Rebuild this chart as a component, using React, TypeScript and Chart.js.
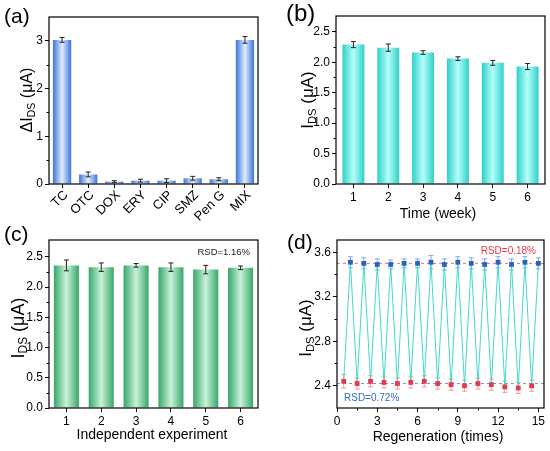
import { useEffect, useRef } from 'react';
import { Chart, registerables } from 'chart.js';

Chart.register(...registerables);

const FONT = "'Liberation Sans', Arial, sans-serif";

// (a) selectivity
const drugLabels = ['TC', 'OTC', 'DOX', 'ERY', 'CIP', 'SMZ', 'Pen G', 'MIX'];
const drugDelta = [3.02, 0.2, 0.05, 0.07, 0.07, 0.12, 0.1, 3.02];
const drugErr = [0.05, 0.05, 0.02, 0.03, 0.04, 0.04, 0.03, 0.07];
const drugTicks = [0, 1, 2, 3];
const drugMinor = [0.5, 1.5, 2.5];

// (b) stability over weeks
const weekLabels = ['1', '2', '3', '4', '5', '6'];
const weekIds = [2.29, 2.24, 2.16, 2.06, 1.99, 1.93];
const weekErr = [0.05, 0.06, 0.03, 0.03, 0.04, 0.05];

// (c) reproducibility
const expLabels = ['1', '2', '3', '4', '5', '6'];
const expIds = [2.36, 2.33, 2.36, 2.33, 2.29, 2.32];
const expErr = [0.09, 0.07, 0.03, 0.07, 0.07, 0.03];

const idsTicks = [0, 0.5, 1, 1.5, 2, 2.5];
const idsMinor = [0.25, 0.75, 1.25, 1.75, 2.25];

// (d) regeneration
const regenLowX = [0.5, 1.5, 2.5, 3.5, 4.5, 5.5, 6.5, 7.5, 8.5, 9.5, 10.5, 11.5, 12.5, 13.5, 14.5];
const regenLow = [2.44, 2.42, 2.44, 2.43, 2.42, 2.43, 2.44, 2.42, 2.41, 2.4, 2.42, 2.41, 2.39, 2.38, 2.4];
const regenLowErr = [0.06, 0.05, 0.05, 0.05, 0.05, 0.05, 0.05, 0.05, 0.05, 0.05, 0.05, 0.05, 0.05, 0.05, 0.05];
const regenHighX = [1, 2, 3, 4, 5, 6, 7, 8, 9, 10, 11, 12, 13, 14, 15];
const regenHigh = [3.51, 3.5, 3.49, 3.49, 3.5, 3.5, 3.51, 3.49, 3.51, 3.5, 3.49, 3.51, 3.49, 3.51, 3.5];
const regenHighErr = [0.05, 0.05, 0.05, 0.04, 0.04, 0.04, 0.06, 0.05, 0.05, 0.05, 0.05, 0.05, 0.05, 0.05, 0.05];
const regenHighMean = 3.5;
const regenLowMean = 2.42;
const regenXTicks = [0, 3, 6, 9, 12, 15];
const regenXMinor = [1.5, 4.5, 7.5, 10.5, 13.5];
const regenYTicks = [2.4, 2.8, 3.2, 3.6];
const regenYMinor = [2.6, 3.0, 3.4];

const line = (ctx: CanvasRenderingContext2D, x1: number, y1: number, x2: number, y2: number) => {
  ctx.beginPath();
  ctx.moveTo(x1, y1);
  ctx.lineTo(x2, y2);
  ctx.stroke();
};

const drawErrors = (chart: any, opts: any, before: boolean) => {
  const ctx = chart.ctx;
  const ys = chart.scales.y;
  (opts.sets || []).forEach((s: any) => {
    if (!!s.before !== before) return;
    const meta = chart.getDatasetMeta(s.dataset);
    const data = chart.data.datasets[s.dataset].data;
    ctx.save();
    ctx.strokeStyle = s.color;
    ctx.lineWidth = s.width ?? 1;
    meta.data.forEach((el: any, i: number) => {
      const raw = data[i];
      const v = typeof raw === 'number' ? raw : raw.y;
      const e = s.errors[i];
      const top = ys.getPixelForValue(v + e);
      const bot = ys.getPixelForValue(v - e);
      line(ctx, el.x, top, el.x, bot);
      line(ctx, el.x - s.cap, top, el.x + s.cap, top);
      line(ctx, el.x - s.cap, bot, el.x + s.cap, bot);
    });
    ctx.restore();
  });
};

const errorBars = {
  id: 'errorBars',
  beforeDatasetsDraw(chart: any, _a: any, opts: any) {
    drawErrors(chart, opts, true);
  },
  afterDatasetsDraw(chart: any, _a: any, opts: any) {
    drawErrors(chart, opts, false);
  },
};

// box, minor ticks, dashed reference lines
const frame = {
  id: 'frame',
  beforeDatasetsDraw(chart: any, _a: any, opts: any) {
    const { ctx, chartArea: a, scales } = chart;
    (opts.hLines || []).forEach((h: any) => {
      const y = scales.y.getPixelForValue(h.y);
      ctx.save();
      ctx.strokeStyle = h.color;
      ctx.lineWidth = 1;
      ctx.setLineDash([3, 3]);
      line(ctx, a.left, y, a.right, y);
      ctx.restore();
    });
  },
  afterDraw(chart: any, _a: any, opts: any) {
    const { ctx, chartArea: a, scales } = chart;
    ctx.save();
    ctx.strokeStyle = '#000';
    ctx.lineWidth = 1.2;
    ctx.strokeRect(a.left, a.top, a.right - a.left, a.bottom - a.top);
    ctx.lineWidth = 1;
    (opts.yMinor || []).forEach((v: number) => {
      const y = Math.round(scales.y.getPixelForValue(v)) + 0.5;
      line(ctx, a.left - 2.5, y, a.left, y);
    });
    (opts.xMinor || []).forEach((v: number) => {
      const x = Math.round(scales.x.getPixelForValue(v)) + 0.5;
      line(ctx, x, a.bottom, x, a.bottom + 2.5);
    });
    ctx.restore();
  },
};

type Part = { t: string; sub?: boolean };

const titles = {
  id: 'titles',
  afterDraw(chart: any, _a: any, o: any) {
    const ctx = chart.ctx;
    ctx.save();
    ctx.fillStyle = '#000';
    if (o.y) {
      const size = o.ySize;
      const parts: Part[] = o.y;
      const widths = parts.map((p) => {
        ctx.font = `${p.sub ? size * 0.66 : size}px ${FONT}`;
        return ctx.measureText(p.t).width;
      });
      const total = widths.reduce((s, w) => s + w, 0);
      ctx.save();
      ctx.translate(o.yPos[0], o.yPos[1]);
      ctx.rotate(-Math.PI / 2);
      ctx.textBaseline = 'middle';
      ctx.textAlign = 'left';
      let x = -total / 2;
      parts.forEach((p, i) => {
        ctx.font = `${p.sub ? size * 0.66 : size}px ${FONT}`;
        ctx.fillText(p.t, x, p.sub ? size * 0.28 : 0);
        x += widths[i];
      });
      ctx.restore();
    }
    // slanted category labels, 45 degrees, ending at the tick
    if (o.slanted) {
      const xs = chart.scales.x;
      const bottom = chart.chartArea.bottom;
      ctx.font = `${o.slanted.size}px ${FONT}`;
      ctx.textAlign = 'right';
      ctx.textBaseline = 'middle';
      o.slanted.labels.forEach((t: string, i: number) => {
        const px = xs.getPixelForValue(i);
        ctx.save();
        ctx.translate(px + 4, bottom + 9);
        ctx.rotate(-Math.PI / 4);
        ctx.fillText(t, 0, 0);
        ctx.restore();
      });
    }
    if (o.x) {
      ctx.font = `${o.xSize}px ${FONT}`;
      ctx.textAlign = 'center';
      ctx.textBaseline = 'middle';
      ctx.fillText(o.x, o.xPos[0], o.xPos[1]);
    }
    (o.notes || []).forEach((n: any) => {
      ctx.font = `${n.size}px ${FONT}`;
      ctx.fillStyle = n.color;
      ctx.textAlign = n.align;
      ctx.textBaseline = 'middle';
      ctx.fillText(n.text, n.x, n.y);
    });
    ctx.restore();
  },
};

const fitArea = (w: number, h: number, area: number[]) => {
  const [l, t, r, b] = area;
  return {
    layout: { padding: { left: 0, top: t, right: w - r, bottom: 0 } },
    yFit: (s: any) => {
      s.width = l;
    },
    xFit: (s: any) => {
      s.height = h - b;
    },
  };
};

const tickFont = (size = 12) => ({ family: FONT, size });

type BarProps = {
  labels: string[];
  values: number[];
  errors: number[];
  edge: string;
  mid: string;
  pct: number;
  yMax: number;
  yTicks: number[];
  yMinor: number[];
  digits: number;
  area: number[];
  w: number;
  h: number;
  rotate?: boolean;
  titleOpts: any;
};

const barConfig = (p: BarProps): any => {
  const fit = fitArea(p.w, p.h, p.area);
  return {
    type: 'bar',
    data: {
      labels: p.labels,
      datasets: [
        {
          data: p.values,
          barPercentage: p.pct,
          categoryPercentage: 1,
          borderWidth: 0,
          backgroundColor: (c: any) => {
            const xs = c.chart.scales.x;
            if (c.type !== 'data' || !xs) return p.edge;
            const cx = xs.getPixelForValue(c.dataIndex);
            const bw = (xs.width / p.labels.length) * p.pct;
            if (!Number.isFinite(cx) || !Number.isFinite(bw) || bw <= 0) return p.edge;
            const g = c.chart.ctx.createLinearGradient(cx - bw / 2, 0, cx + bw / 2, 0);
            g.addColorStop(0, p.edge);
            g.addColorStop(0.5, p.mid);
            g.addColorStop(1, p.edge);
            return g;
          },
        },
      ],
    },
    plugins: [errorBars, frame, titles],
    options: {
      animation: false,
      responsive: true,
      maintainAspectRatio: false,
      layout: fit.layout,
      scales: {
        x: {
          type: 'category',
          offset: true,
          afterFit: fit.xFit,
          grid: { display: true, offset: false, drawOnChartArea: false, drawTicks: true, tickLength: 4, color: '#000' },
          border: { display: false },
          ticks: { display: !p.rotate, padding: 2, color: '#000', font: tickFont(12) },
        },
        y: {
          type: 'linear',
          min: 0,
          max: p.yMax,
          afterFit: fit.yFit,
          afterBuildTicks: (s: any) => {
            s.ticks = p.yTicks.map((v) => ({ value: v }));
          },
          grid: { display: true, drawOnChartArea: false, drawTicks: true, tickLength: 4, color: '#000' },
          border: { display: false },
          ticks: { padding: 2, color: '#000', font: tickFont(12), callback: (v: number) => v.toFixed(p.digits) },
        },
      },
      plugins: {
        legend: { display: false },
        tooltip: { enabled: false },
        errorBars: { sets: [{ dataset: 0, errors: p.errors, color: '#222', cap: 2.5 }] },
        frame: { yMinor: p.yMinor },
        titles: p.rotate ? { ...p.titleOpts, slanted: { labels: p.labels, size: 13 } } : p.titleOpts,
      },
    },
  };
};

const regenConfig = (w: number, h: number): any => {
  const fit = fitArea(w, h, [62, 15, 269, 183]);
  const zigzag: { x: number; y: number }[] = [];
  regenLowX.forEach((x, i) => {
    zigzag.push({ x, y: regenLow[i] });
    zigzag.push({ x: regenHighX[i], y: regenHigh[i] });
  });
  return {
    type: 'scatter',
    data: {
      datasets: [
        {
          data: regenHighX.map((x, i) => ({ x, y: regenHigh[i] })),
          pointStyle: 'rect',
          pointRadius: 3.4,
          backgroundColor: '#2a62c2',
          borderColor: '#2a62c2',
          borderWidth: 0,
        },
        {
          data: regenLowX.map((x, i) => ({ x, y: regenLow[i] })),
          pointStyle: 'rect',
          pointRadius: 3.4,
          backgroundColor: '#e8394c',
          borderColor: '#e8394c',
          borderWidth: 0,
        },
        {
          data: zigzag,
          showLine: true,
          pointRadius: 0,
          borderColor: '#43d9c9',
          borderWidth: 1,
        },
      ],
    },
    plugins: [errorBars, frame, titles],
    options: {
      animation: false,
      responsive: true,
      maintainAspectRatio: false,
      layout: fit.layout,
      scales: {
        x: {
          type: 'linear',
          min: 0,
          max: 15.42,
          afterFit: fit.xFit,
          afterBuildTicks: (s: any) => {
            s.ticks = regenXTicks.map((v) => ({ value: v }));
          },
          grid: { display: true, drawOnChartArea: false, drawTicks: true, tickLength: 4, color: '#000' },
          border: { display: false },
          ticks: { padding: 2, color: '#000', font: tickFont(12) },
        },
        y: {
          type: 'linear',
          min: 2.2,
          max: 3.71,
          afterFit: fit.yFit,
          afterBuildTicks: (s: any) => {
            s.ticks = regenYTicks.map((v) => ({ value: v }));
          },
          grid: { display: true, drawOnChartArea: false, drawTicks: true, tickLength: 4, color: '#000' },
          border: { display: false },
          ticks: { padding: 2, color: '#000', font: tickFont(12), callback: (v: number) => v.toFixed(1) },
        },
      },
      plugins: {
        legend: { display: false },
        tooltip: { enabled: false },
        errorBars: {
          sets: [
            { dataset: 0, errors: regenHighErr, color: '#86a9e2', cap: 2.5, before: true },
            { dataset: 1, errors: regenLowErr, color: '#f29aa2', cap: 2.5, before: true },
          ],
        },
        frame: {
          yMinor: regenYMinor,
          xMinor: regenXMinor,
          hLines: [
            { y: regenHighMean, color: '#ee6f78' },
            { y: regenLowMean, color: '#6f97d6' },
          ],
        },
        titles: {
          ySize: 17,
          xSize: 14,
          y: [{ t: 'I' }, { t: 'DS', sub: true }, { t: ' (μA)' }],
          yPos: [31, 103],
          x: 'Regeneration (times)',
          xPos: [163, 212],
          notes: [
            { text: 'RSD=0.18%', x: 261, y: 26, color: '#e8394c', align: 'right', size: 10 },
            { text: 'RSD=0.72%', x: 69, y: 173, color: '#2f6fc4', align: 'left', size: 10 },
          ],
        },
      },
    },
  };
};

const Panel = ({ left, top, w, h, config }: { left: number; top: number; w: number; h: number; config: (w: number, h: number) => any }) => {
  const ref = useRef<HTMLCanvasElement>(null);
  useEffect(() => {
    if (!ref.current) return;
    const chart = new Chart(ref.current, config(w, h));
    return () => chart.destroy();
  }, []);
  return (
    <div style={{ position: 'absolute', left, top, width: w, height: h }}>
      <canvas ref={ref} />
    </div>
  );
};

const label = (text: string, left: number, top: number, size: number) => (
  <div style={{ position: 'absolute', left, top, fontFamily: FONT, fontSize: size, lineHeight: 1, color: '#000' }}>{text}</div>
);

const App = () => {
  return (
    <div style={{ position: 'fixed', left: 0, top: 0, width: 550, height: 451, background: '#fff', overflow: 'hidden' }}>
      <Panel
        left={0}
        top={0}
        w={275}
        h={225}
        config={(w, h) =>
          barConfig({
            labels: drugLabels,
            values: drugDelta,
            errors: drugErr,
            edge: '#3a76da',
            mid: '#e2ecff',
            pct: 0.7,
            yMax: 3.5,
            yTicks: drugTicks,
            yMinor: drugMinor,
            digits: 0,
            area: [49, 17, 258, 184],
            w,
            h,
            rotate: true,
            titleOpts: { ySize: 16, y: [{ t: 'ΔI' }, { t: 'DS', sub: true }, { t: ' (μA)' }], yPos: [28, 100] },
          })
        }
      />
      <Panel
        left={275}
        top={0}
        w={275}
        h={225}
        config={(w, h) =>
          barConfig({
            labels: weekLabels,
            values: weekIds,
            errors: weekErr,
            edge: '#2fd0c8',
            mid: '#b4fffb',
            pct: 0.63,
            yMax: 2.76,
            yTicks: idsTicks,
            yMinor: idsMinor,
            digits: 1,
            area: [61, 16, 270, 184],
            w,
            h,
            titleOpts: {
              ySize: 17,
              xSize: 14,
              y: [{ t: 'I' }, { t: 'DS', sub: true }, { t: ' (μA)' }],
              yPos: [33, 100],
              x: 'Time (week)',
              xPos: [163, 214],
            },
          })
        }
      />
      <Panel
        left={0}
        top={225}
        w={275}
        h={226}
        config={(w, h) =>
          barConfig({
            labels: expLabels,
            values: expIds,
            errors: expErr,
            edge: '#37a868',
            mid: '#c9f2da',
            pct: 0.72,
            yMax: 2.78,
            yTicks: idsTicks,
            yMinor: idsMinor,
            digits: 1,
            area: [49, 15, 258, 183],
            w,
            h,
            titleOpts: {
              ySize: 18,
              xSize: 14,
              y: [{ t: 'I' }, { t: 'DS', sub: true }, { t: ' (μA)' }],
              yPos: [19, 103],
              x: 'Independent experiment',
              xPos: [152, 210],
              notes: [{ text: 'RSD=1.16%', x: 250, y: 27, color: '#222', align: 'right', size: 9.5 }],
            },
          })
        }
      />
      <Panel left={275} top={225} w={275} h={226} config={regenConfig} />
      {label('(a)', 4, 5, 21)}
      {label('(b)', 286, 1, 24)}
      {label('(c)', 4, 223, 21)}
      {label('(d)', 287, 231, 21)}
    </div>
  );
};

export default App;
